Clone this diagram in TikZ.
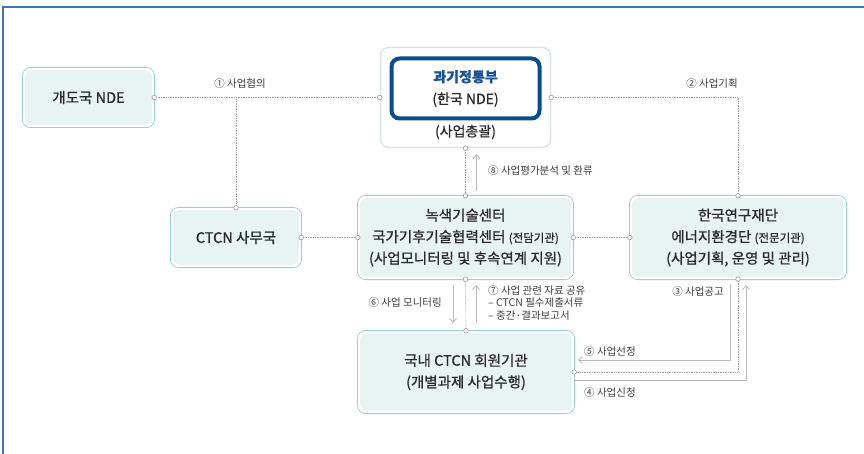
\documentclass[tikz,border=0pt]{standalone}
\usepackage{fontspec}
\setmainfont{Noto Sans CJK KR}
\newfontfamily\boxfont{Noto Sans CJK KR}[FakeBold=0.9]
\usetikzlibrary{arrows.meta}

\definecolor{framecol}{HTML}{3C79B2}
\definecolor{mint}{HTML}{E8F4F1}
\definecolor{tealline}{HTML}{86D0C2}
\definecolor{navy}{HTML}{0B4C8A}
\definecolor{titleblue}{HTML}{1A5396}
\definecolor{paleblue}{HTML}{DCE3EF}
\definecolor{txt}{HTML}{2A2A2A}
\definecolor{lbl}{HTML}{3C3C3C}

\begin{document}
\begin{tikzpicture}[x=1pt, y=-1pt,
    box/.style={rounded corners=7pt, fill=mint, draw=white, line width=2.4pt,
        preaction={draw=tealline, line width=4pt}, align=center, inner sep=0pt,
        text=txt, font=\boxfont\fontsize{14.5}{21.5}\selectfont},
    link/.style={draw=gray!75, line width=0.6pt, dash pattern=on 0.8pt off 0.9pt},
    flow/.style={draw=gray!55, line width=0.8pt, -{Straight Barb[length=4pt,width=7pt]}},
    dot/.style={draw=gray!80, fill=white, line width=0.6pt},
    lab/.style={text=lbl, font=\fontsize{10.5}{13}\selectfont, inner sep=1pt}]
    \useasboundingbox (0,0) rectangle (864,454);

    % Frame
    \draw[framecol, line width=2.2pt] (3,454) -- (3,7) -- (864,7);

    % Boxes
    \node[box, minimum width=129pt, minimum height=57pt] (nde) at (88.5,97.5) {개도국 NDE};
    \node[box, minimum width=128pt, minimum height=57pt] (ctcn) at (236,237.5) {CTCN 사무국};
    \node[box, minimum width=213pt, minimum height=81pt] (gtc) at (465.5,237.5)
        {녹색기술센터\\국가기후기술협력센터 {\fontsize{11.5}{21.5}\selectfont(전담기관)}\\(사업모니터링 및 후속연계 지원)};
    \node[box, minimum width=214pt, minimum height=81pt] (nrf) at (738,237.5)
        {한국연구재단\\에너지환경단 {\fontsize{11.5}{21.5}\selectfont(전문기관)}\\(사업기획, 운영 및 관리)};
    \node[box, minimum width=214pt, minimum height=80pt] (member) at (466,372)
        {국내 CTCN 회원기관\\(개별과제 사업수행)};

    % Ministry box
    \node[draw=paleblue, fill=white, line width=1.5pt, rounded corners=8pt,
        minimum width=170pt, minimum height=100pt] (msit) at (465.5,97.5) {};
    \node[draw=navy, line width=4pt, rounded corners=8pt, minimum width=148pt,
        minimum height=60pt, align=center, text=txt, font=\boxfont\fontsize{14}{22}\selectfont]
        (msitin) at (465.5,88.5) {\textcolor{titleblue}{\textbf{과기정통부}}\\(한국 NDE)};
    \node[text=txt, font=\boxfont\fontsize{14}{16}\selectfont] (msitrole) at (465.5,132) {(사업총괄)};

    % Dotted links
    \coordinate (j1) at (236,97.5);
    \draw[link] (nde.east) -- (msit.west);
    \draw[link] (j1) -- (ctcn.north);
    \draw[link] (msit.east) -| (nrf.north);
    \draw[link] (ctcn.east) -- (gtc.west);
    \draw[link] (gtc.east) -- (nrf.west);
    \draw[link] (msit.south) -- (gtc.north);
    \draw[link] (gtc.south) -- (member.north);
    \draw[link] (nrf.south) |- (member.east);

    % Link end points
    \foreach \p in {nde.east, msit.west, msit.east, msit.south, ctcn.north, ctcn.east,
        gtc.west, gtc.north, gtc.east, gtc.south, nrf.west, nrf.north, nrf.south,
        member.north, member.east}
        \draw[dot] (\p) circle (2.3pt);

    % Flow arrows
    \coordinate (a8s) at (476.5,191);
    \coordinate (a8e) at (476.5,154);
    \draw[flow] (a8s) -- (a8e);
    \coordinate (a6s) at (453,285);
    \coordinate (a6e) at (453,323);
    \draw[flow] (a6s) -- (a6e);
    \coordinate (a7s) at (476,323);
    \coordinate (a7e) at (476,285);
    \draw[flow] (a7s) -- (a7e);
    \coordinate (a5s) at (730,284);
    \coordinate (a5e) at (578,360);
    \draw[flow] (a5s) |- (a5e);
    \coordinate (a4s) at ([yshift=-8pt]member.east);
    \coordinate (a4e) at (746,285);
    \draw[flow] (a4s) -| (a4e);

    % Labels
    \node[lab] (l1) at (240,84) {① 사업협의};
    \node[lab] (l2) at (712,84) {② 사업기획};
    \node[lab, anchor=west] (l8) at (487,171) {⑧ 사업평가분석 및 환류};
    \node[lab, anchor=east] (l6) at (443,303) {⑥ 사업 모니터링};
    \node[lab, anchor=north west, align=left, font=\fontsize{10.5}{12.5}\selectfont] (l7) at (487,284)
        {⑦ 사업 관련 자료 공유\\– CTCN 필수제출서류\\– 중간·결과보고서};
    \node[lab, anchor=east] (l3) at (725,292) {③ 사업공고};
    \node[lab, anchor=west] (l5) at (583,352) {⑤ 사업선정};
    \node[lab, anchor=west] (l4) at (583,393) {④ 사업신청};
\end{tikzpicture}
\end{document}
